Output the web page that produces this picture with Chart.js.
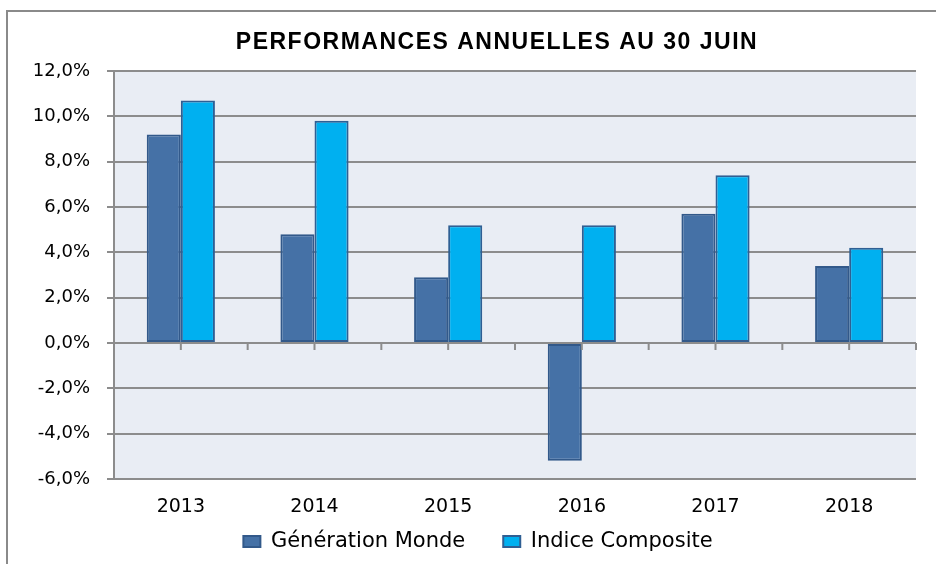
<!DOCTYPE html>
<html>
<head>
<meta charset="utf-8">
<script src="https://cdn.jsdelivr.net/npm/chart.js@4.4.0/dist/chart.umd.min.js"></script>
<style>
  html, body { margin: 0; padding: 0; background: #fff; }
  #wrap { width: 936px; height: 564px; position: relative; }
</style>
</head>
<body>
<div id="wrap"><canvas id="perfChart" width="936" height="564"></canvas></div>
<script>
/* Chart data */
var years = ["2013", "2014", "2015", "2016", "2017", "2018"];
var generationMonde = [9.2, 4.8, 2.9, -5.2, 5.7, 3.4];
var indiceComposite = [10.7, 9.8, 5.2, 5.2, 7.4, 4.2];
var chartTitle = "PERFORMANCES ANNUELLES AU 30 JUIN";

const gridGray = "#8c8c8c";
const fontFamily = "'DejaVu Sans', sans-serif";
const legendTop = 493;

function frTick(v) {
	return v.toFixed(1).replace(".", ",") + "%";
}

/* plot background, outer frame, title, ticks on the zero line */
const decorPlugin = {
	id: "decor",
	beforeInit(chart) {
		// the original text is a little wider than our fonts
		chart.ctx.letterSpacing = "1px";
	},
	afterLayout(chart) {
		// legend sits closer to the axis labels than the layout allows
		chart.legend.top = legendTop;
		chart.legend.bottom = chart.height;
		chart.legend.left += 10;
		chart.legend.right += 10;
	},
	beforeDraw(chart) {
		const c = chart.ctx;
		const a = chart.chartArea;
		c.save();
		c.fillStyle = "#ffffff";
		c.fillRect(0, 0, chart.width, chart.height);
		c.strokeStyle = "#8a8a8a";
		c.lineWidth = 2;
		c.strokeRect(7, 11, chart.width + 20, chart.height + 20);
		c.fillStyle = "#e9edf4";
		c.fillRect(a.left, a.top, a.right - a.left, a.bottom - a.top);
		c.fillStyle = "#000";
		c.font = "bold 23px 'Liberation Sans', Arial, sans-serif";
		c.letterSpacing = "1.5px";
		c.textAlign = "center";
		c.textBaseline = "middle";
		c.fillText(chartTitle, 497, 43);
		c.restore();
	},
	afterDatasetsDraw(chart) {
		const c = chart.ctx;
		const x = chart.scales.x;
		const y0 = chart.scales.y.getPixelForValue(0);
		const half = (x.getPixelForValue(1) - x.getPixelForValue(0)) / 2;
		c.save();
		c.strokeStyle = gridGray;
		c.lineWidth = 2;
		c.beginPath();
		c.moveTo(chart.chartArea.left, y0);
		c.lineTo(chart.chartArea.right, y0);
		for (var i = 0; i < years.length; i++) {
			var px = x.getPixelForValue(i);
			c.moveTo(px, y0);
			c.lineTo(px, y0 + 7);
			c.moveTo(px + half, y0);
			c.lineTo(px + half, y0 + 7);
		}
		c.stroke();
		c.restore();
	}
};

window.addEventListener("DOMContentLoaded", function () {
	const ctx = document.getElementById("perfChart").getContext("2d");
	new Chart(ctx, {
		type: "bar",
		data: {
			labels: years,
			datasets: [
				{
					label: "Génération Monde",
					data: generationMonde,
					backgroundColor: "#4571a6",
					borderColor: "#32598a",
					borderWidth: 2,
					borderSkipped: false
				},
				{
					label: "Indice Composite",
					data: indiceComposite,
					backgroundColor: "#00b0f0",
					borderColor: "#2f5f93",
					borderWidth: 2,
					borderSkipped: false
				}
			]
		},
		options: {
			responsive: false,
			animation: false,
			layout: {
				padding: { left: 20, right: 20, top: 71, bottom: 0 }
			},
			datasets: {
				bar: {
					categoryPercentage: 0.51,
					barPercentage: 1.0
				}
			},
			scales: {
				x: {
					grid: { display: false },
					border: { display: false },
					ticks: {
						color: "#000",
						padding: 9,
						font: { family: fontFamily, size: 19 }
					},
					afterFit: function (scale) { scale.height = 40; }
				},
				y: {
					min: -6,
					max: 12,
					ticks: {
						stepSize: 2,
						color: "#000",
						padding: 17,
						font: { family: fontFamily, size: 18 },
						callback: frTick
					},
					grid: {
						color: gridGray,
						lineWidth: 2,
						tickLength: 7
					},
					border: { color: gridGray, width: 2 },
					afterFit: function (scale) { scale.width = 94; }
				}
			},
			plugins: {
				title: { display: false },
				tooltip: { enabled: false },
				legend: {
					position: "bottom",
					maxHeight: 45,
					labels: {
						color: "#000",
						boxWidth: 17,
						boxHeight: 11,
						padding: 38,
						font: { family: fontFamily, size: 21 }
					}
				}
			}
		},
		plugins: [decorPlugin]
	});
}, false);
</script>
</body>
</html>
